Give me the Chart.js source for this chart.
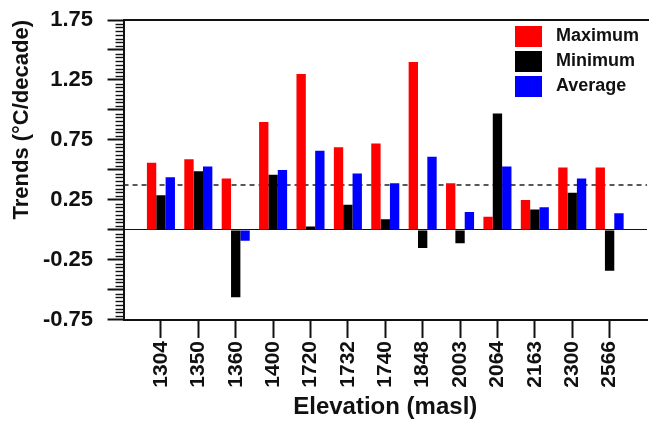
<!DOCTYPE html>
<html>
<head>
<meta charset="utf-8">
<script src="https://cdn.jsdelivr.net/npm/chart.js@4.4.1/dist/chart.umd.min.js"></script>
<style>
  html, body { margin: 0; padding: 0; background: #ffffff; }
  #wrap { width: 649px; height: 422px; }
</style>
</head>
<body>
<div id="wrap"><canvas id="c" width="649" height="422"></canvas></div>
<script>
// ---- data ----
const elevations = ['1304', '1350', '1360', '1400', '1720', '1732', '1740', '1848', '2003', '2064', '2163', '2300', '2566'];
const maxTrend = [0.56, 0.59, 0.43, 0.90, 1.30, 0.69, 0.72, 1.40, 0.39, 0.11, 0.25, 0.52, 0.52];
const minTrend = [0.29, 0.49, -0.56, 0.46, 0.03, 0.21, 0.09, -0.15, -0.11, 0.97, 0.17, 0.31, -0.34];
const avgTrend = [0.44, 0.53, -0.09, 0.50, 0.66, 0.47, 0.39, 0.61, 0.15, 0.53, 0.19, 0.43, 0.14];
const seriesNames = ['Maximum', 'Minimum', 'Average'];
const yTickLabels = ['-0.75', '-0.25', '0.25', '0.75', '1.25', '1.75'];
const referenceLine = 0.375;
const xTitle = 'Elevation (masl)';
const yTitle = 'Trends (\u00B0C/decade)';

// ---- styling ----
const seriesColors = ['#ff0000', '#000000', '#0000ff'];
const FONT = "'Liberation Sans', Arial, Helvetica, sans-serif";
const INK = '#111111';

// one empty slot on each side of the categories
const xLabels = [''].concat(elevations, ['']);
const padded = arr => [null].concat(arr, [null]);
const series = [maxTrend, minTrend, avgTrend];

Chart.defaults.font.family = FONT;
Chart.defaults.color = INK;

const axisDecor = {
  id: 'axisDecor',
  afterLayout(chart) {
    const lg = chart.legend, a = chart.chartArea;
    if (!lg) return;
    lg.left = a.right - 136;
    lg.right = lg.left + lg.width;
    lg.top = a.top + 2;
    lg.bottom = a.bottom;
  },
  beforeDatasetsDraw(chart) {
    const { ctx, chartArea: a, scales: { y } } = chart;
    const yp = y.getPixelForValue(referenceLine);
    ctx.save();
    ctx.setLineDash([5, 4]);
    ctx.lineWidth = 1.3;
    ctx.strokeStyle = '#222222';
    ctx.beginPath();
    ctx.moveTo(a.left, yp);
    ctx.lineTo(a.right, yp);
    ctx.stroke();
    ctx.restore();
  },
  afterDraw(chart) {
    const { ctx, chartArea: a, scales: { y } } = chart;
    ctx.save();
    ctx.strokeStyle = INK;
    // minor ticks on the value axis
    ctx.lineWidth = 1.4;
    const sub = 8, major = 0.25;
    const n = Math.round((y.max - y.min) / major) * sub;
    for (let k = 0; k <= n; k++) {
      if (k % sub === 0) continue;
      const p = Math.round(y.getPixelForValue(y.min + k * major / sub)) + 0.5;
      ctx.beginPath();
      ctx.moveTo(a.left - 8, p);
      ctx.lineTo(a.left, p);
      ctx.stroke();
    }
    // top frame line
    ctx.lineWidth = 2;
    ctx.beginPath();
    ctx.moveTo(a.left, a.top);
    ctx.lineTo(a.right + 2, a.top);
    ctx.stroke();
    ctx.restore();
  }
};

new Chart(document.getElementById('c'), {
  type: 'bar',
  data: {
    labels: xLabels,
    datasets: series.map((s, i) => ({
      label: seriesNames[i],
      data: padded(s),
      backgroundColor: seriesColors[i],
      borderWidth: 0,
      categoryPercentage: 0.75,
      barPercentage: 1.0
    }))
  },
  options: {
    responsive: false,
    animation: false,
    devicePixelRatio: 1,
    layout: { padding: { left: 9, right: 2, top: 20, bottom: 0 } },
    plugins: {
      tooltip: { enabled: false },
      legend: {
        position: 'chartArea',
        align: 'start',
        labels: {
          boxWidth: 27,
          boxHeight: 21,
          padding: 4,
          color: INK,
          font: { size: 18, weight: 'bold', family: FONT },
          generateLabels(chart) {
            const items = Chart.defaults.plugins.legend.labels.generateLabels(chart);
            items.forEach(it => { it.text = ' ' + it.text; it.lineWidth = 0; });
            return items;
          }
        }
      }
    },
    scales: {
      x: {
        type: 'category',
        offset: false,
        afterFit(scale) { scale.paddingLeft = 0; scale.paddingRight = 0; },
        border: { display: true, color: INK, width: 2 },
        grid: {
          offset: false,
          drawOnChartArea: false,
          drawTicks: true,
          tickLength: 18,
          tickWidth: 2,
          tickColor: ctx => (ctx.index === 0 || ctx.index === xLabels.length - 1) ? 'rgba(0,0,0,0)' : INK
        },
        ticks: {
          autoSkip: false,
          maxRotation: 90,
          minRotation: 90,
          padding: 3,
          color: INK,
          font: { size: 21, weight: 'bold', family: FONT }
        },
        title: {
          display: true,
          text: xTitle,
          color: INK,
          padding: { top: 2.5, bottom: 0 },
          font: { size: 24, weight: 'bold', family: FONT }
        }
      },
      y: {
        type: 'linear',
        min: -0.75,
        max: 1.75,
        afterFit(scale) { scale.paddingTop = 0; scale.paddingBottom = 0; },
        border: { display: true, color: INK, width: 2 },
        grid: {
          drawOnChartArea: true,
          drawTicks: true,
          tickLength: 16,
          tickWidth: 2,
          tickColor: INK,
          lineWidth: 1,
          color: ctx => (ctx.tick && Math.abs(ctx.tick.value) < 1e-9) ? INK : 'rgba(0,0,0,0)'
        },
        ticks: {
          stepSize: 0.25,
          autoSkip: false,
          padding: 14.5,
          color: INK,
          font: { size: 22, weight: 'bold', family: FONT },
          callback: v => {
            const s = (+v).toFixed(2);
            return yTickLabels.includes(s) ? s : '';
          }
        },
        title: {
          display: true,
          text: yTitle,
          align: 'end',
          color: INK,
          padding: { top: 0, bottom: -7 },
          font: { size: 22, weight: 'bold', family: FONT }
        }
      }
    }
  },
  plugins: [axisDecor]
});
</script>
</body>
</html>
